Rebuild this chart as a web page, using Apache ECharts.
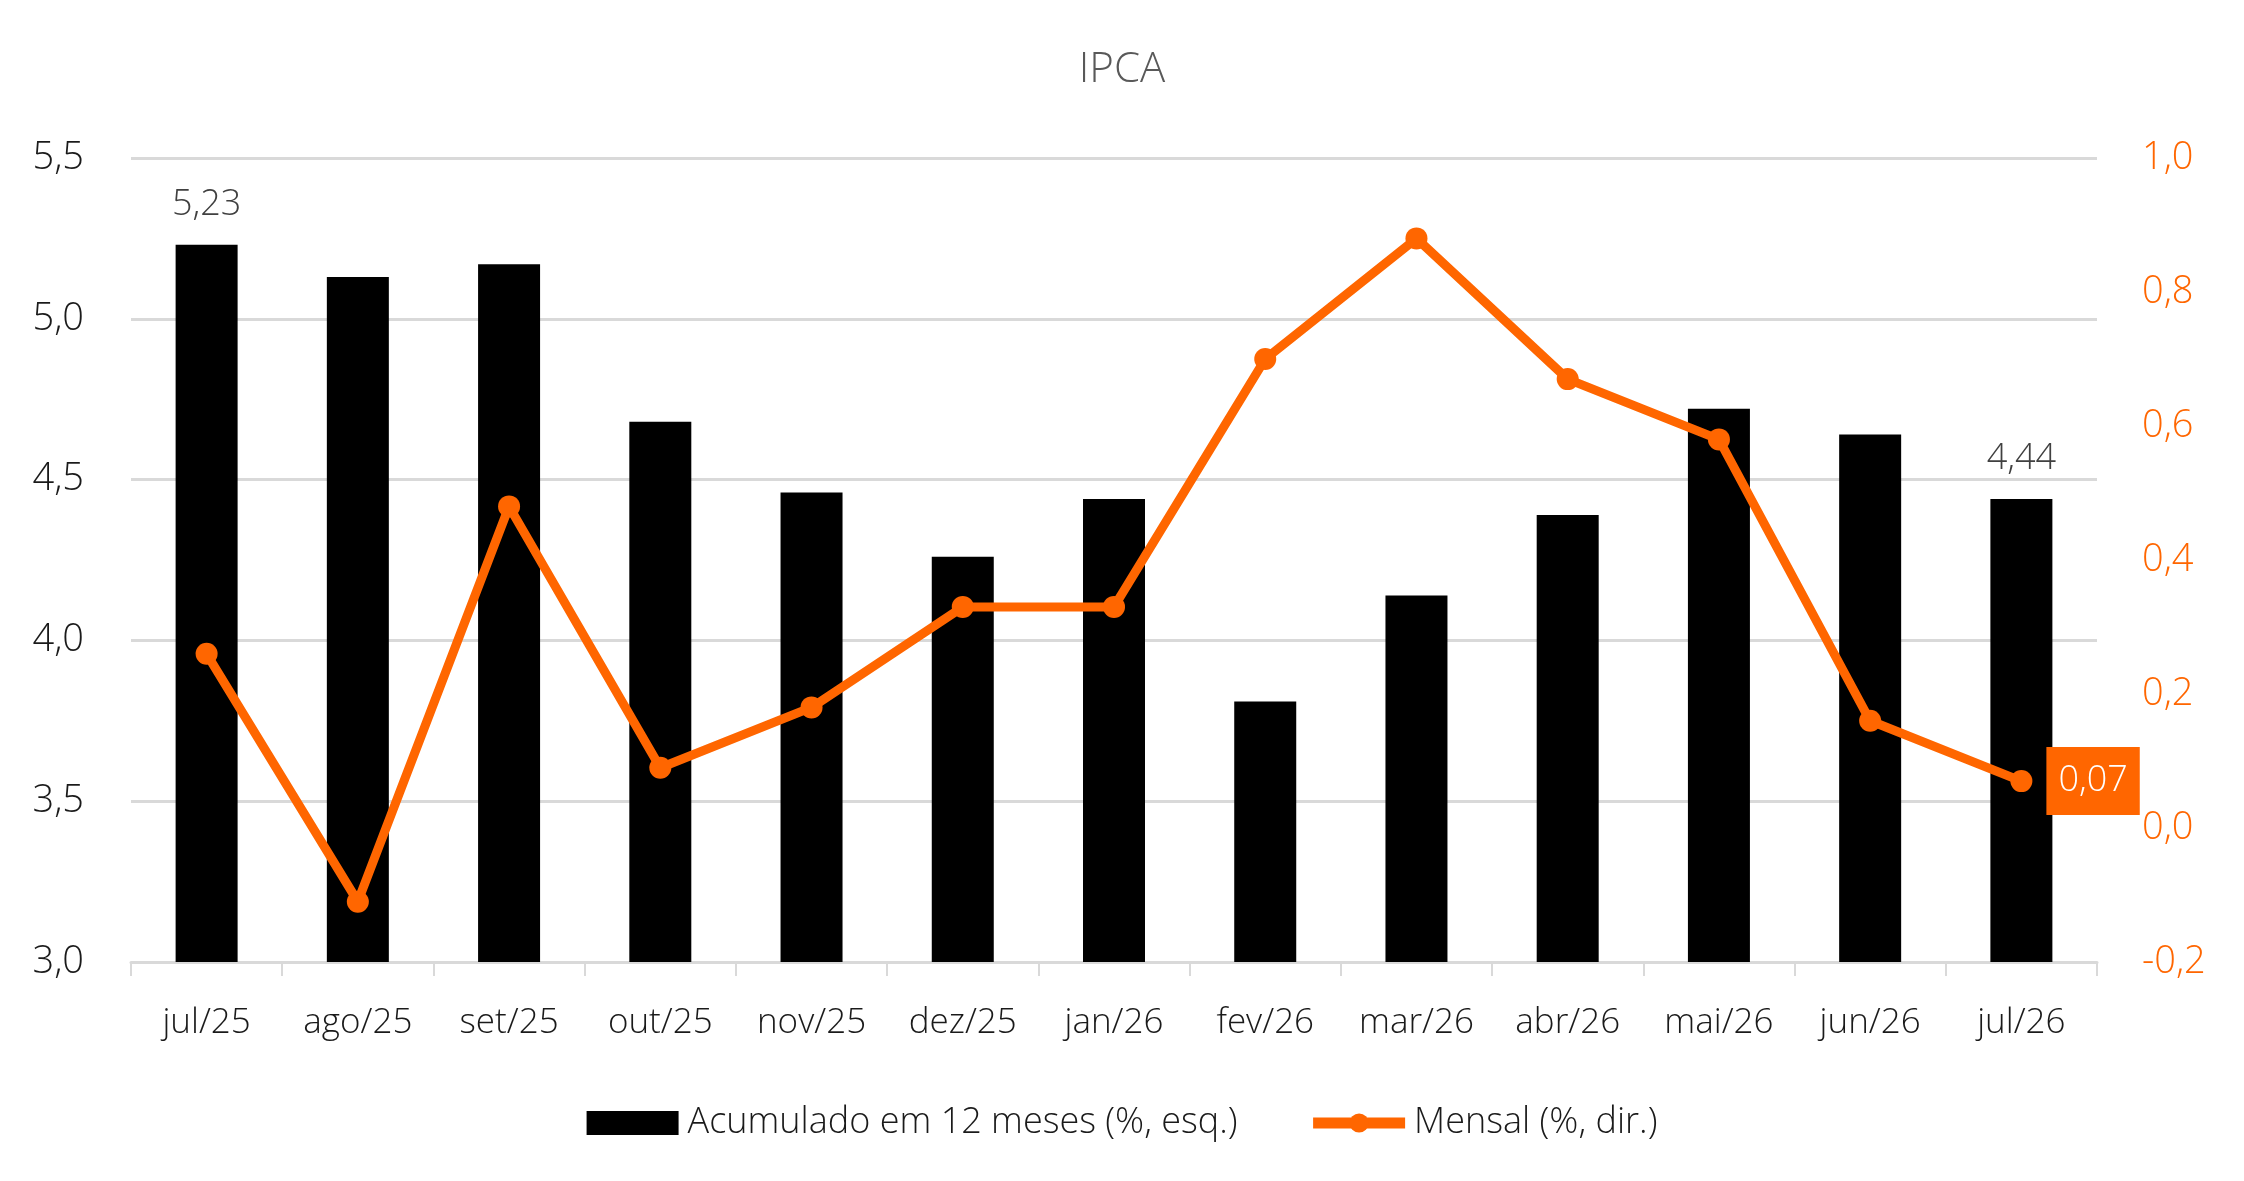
<!DOCTYPE html>
<html>
<head>
<meta charset="utf-8">
<title>IPCA</title>
<script src="https://cdn.jsdelivr.net/npm/echarts@6/dist/echarts.min.js"></script>
<style>
  html, body { margin: 0; padding: 0; background: #fff; }
  #container { width: 2244px; height: 1181px; }
</style>
</head>
<body>
<div id="container"></div>
<script>
var meses = ['jul/25', 'ago/25', 'set/25', 'out/25', 'nov/25', 'dez/25', 'jan/26',
             'fev/26', 'mar/26', 'abr/26', 'mai/26', 'jun/26', 'jul/26'];
// acumulado em 12 meses (%, eixo esq.)
var acumulado = [5.23, 5.13, 5.17, 4.68, 4.46, 4.26, 4.44, 3.81, 4.14, 4.39, 4.72, 4.64, 4.44];
// variacao mensal (%, eixo dir.)
var mensal = [0.26, -0.11, 0.48, 0.09, 0.18, 0.33, 0.33, 0.70, 0.88, 0.67, 0.58, 0.16, 0.07];

var laranja = '#FF6600';
var fonte = '"Open Sans", "Noto Sans", sans-serif';

function virgula(v, casas) {
  return v.toFixed(casas).replace('.', ',');
}

// rotulo so no primeiro e no ultimo ponto
var barData = acumulado.map(function (v, i) {
  var item = { value: v };
  if (i === 0 || i === acumulado.length - 1) {
    item.label = { show: true };
  }
  return item;
});
var lineData = mensal.map(function (v, i) {
  var item = { value: v };
  if (i === mensal.length - 1) {
    item.label = { show: true };
  }
  return item;
});

var myChart = echarts.init(document.getElementById('container'));

var option = {
  animation: false,
  backgroundColor: '#fff',
  textStyle: { fontFamily: fonte, fontWeight: 300 },
  title: {
    text: 'IPCA',
    left: 'center',
    top: 44,
    textStyle: { color: '#595959', fontSize: 42, fontWeight: 300, fontFamily: fonte }
  },
  legend: {
    bottom: 35,
    left: 'center',
    itemWidth: 92,
    itemHeight: 24,
    itemGap: 70,
    textStyle: { color: '#1a1a1a', fontSize: 36, fontWeight: 300, fontFamily: fonte, padding: [0, 0, 0, 4] },
    data: [
      { name: 'Acumulado em 12 meses (%, esq.)', icon: 'rect' },
      {
        name: 'Mensal (%, dir.)',
        lineStyle: { color: laranja, width: 11 },
        itemStyle: { color: laranja }
      }
    ]
  },
  grid: {
    left: 131,
    right: 147,
    top: 158,
    bottom: 219
  },
  xAxis: {
    type: 'category',
    data: meses,
    axisLine: { onZero: false, lineStyle: { color: '#d9d9d9', width: 3 } },
    axisTick: { show: true, length: 14, lineStyle: { color: '#d9d9d9', width: 2 } },
    axisLabel: { interval: 0, color: '#1a1a1a', fontSize: 35, fontWeight: 300, fontFamily: fonte, margin: 44 }
  },
  yAxis: [
    {
      type: 'value',
      min: 3,
      max: 5.5,
      interval: 0.5,
      axisLine: { show: false },
      axisTick: { show: false },
      splitLine: { lineStyle: { color: '#d9d9d9', width: 3 } },
      axisLabel: {
        color: '#1a1a1a', fontSize: 38, fontWeight: 300, fontFamily: fonte, margin: 47,
        formatter: function (v) { return virgula(v, 1); }
      }
    },
    {
      type: 'value',
      min: -0.2,
      max: 1.0,
      interval: 0.2,
      axisLine: { show: false },
      axisTick: { show: false },
      splitLine: { show: false },
      axisLabel: {
        color: laranja, fontSize: 38, fontWeight: 300, fontFamily: fonte, margin: 45,
        formatter: function (v) { return virgula(v, 1); }
      }
    }
  ],
  series: [
    {
      name: 'Acumulado em 12 meses (%, esq.)',
      type: 'bar',
      yAxisIndex: 0,
      barWidth: 62,
      itemStyle: { color: '#000' },
      label: {
        show: false,
        position: 'top',
        distance: 22,
        color: '#404040',
        fontSize: 36,
        fontWeight: 300,
        fontFamily: fonte,
        formatter: function (p) { return virgula(p.value, 2); }
      },
      data: barData
    },
    {
      name: 'Mensal (%, dir.)',
      type: 'line',
      yAxisIndex: 1,
      symbol: 'circle',
      symbolSize: 22,
      lineStyle: { color: laranja, width: 9 },
      itemStyle: { color: laranja },
      label: {
        show: false,
        position: 'right',
        distance: 14,
        color: '#fff',
        backgroundColor: laranja,
        padding: [16, 12, 16, 12],
        fontSize: 36,
        fontWeight: 300,
        fontFamily: fonte,
        formatter: function (p) { return virgula(p.value, 2); }
      },
      z: 3,
      data: lineData
    }
  ]
};

myChart.setOption(option);
</script>
</body>
</html>
